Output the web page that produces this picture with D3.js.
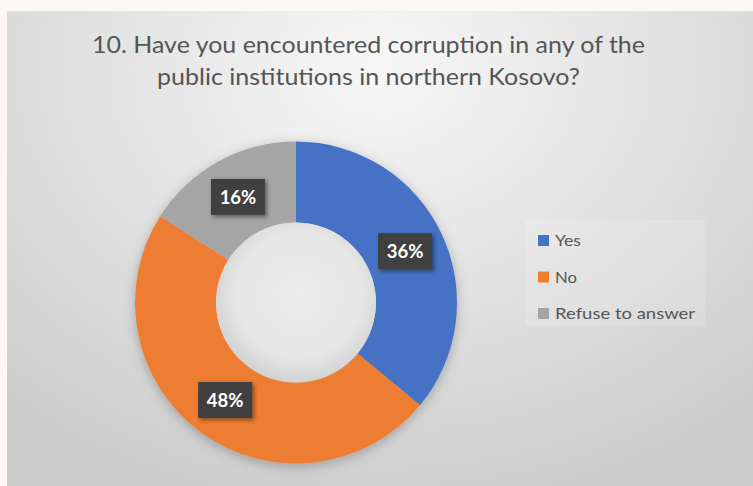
<!DOCTYPE html>
<html>
<head>
<meta charset="utf-8">
<script src="https://cdn.jsdelivr.net/npm/d3@7"></script>
<style>
  html, body { margin: 0; padding: 0; background: #fdf7f5; }
  svg { display: block; }
</style>
</head>
<body>
<svg id="chart" width="753" height="486"></svg>
<script>
// Survey answers, shares in percent
const categories = ["Yes", "No", "Refuse to answer"];
const shares = [36, 48, 16];
const colors = ["#4472C4", "#ED7D31", "#A5A5A5"];
const titleLines = [
  "10. Have you encountered corruption in any of the",
  "public institutions in northern Kosovo?"
];
// Rendered widths of the text runs (px)
const titleWidths = [553, 423];
const legendWidths = [26, 22, 140];

const W = 753, H = 486;
const svg = d3.select("#chart");
const defs = svg.append("defs");
const FONT = "Lato, 'Open Sans', sans-serif";

// Panel background gradient
const bg = defs.append("radialGradient").attr("id", "bgGrad")
  .attr("cx", "50%").attr("cy", "12%").attr("r", "75%")
  .attr("gradientTransform", "translate(0.5,0.12) scale(1,1.25) translate(-0.5,-0.12)");
bg.append("stop").attr("offset", "0%").attr("stop-color", "#f7f7f7");
bg.append("stop").attr("offset", "55%").attr("stop-color", "#e0e0e0");
bg.append("stop").attr("offset", "100%").attr("stop-color", "#cdcdcd");

// Hole shading
const hole = defs.append("radialGradient").attr("id", "holeGrad")
  .attr("cx", "52%").attr("cy", "45%").attr("r", "55%");
hole.append("stop").attr("offset", "0%").attr("stop-color", "#ececec");
hole.append("stop").attr("offset", "72%").attr("stop-color", "#e6e6e6");
hole.append("stop").attr("offset", "100%").attr("stop-color", "#d2d2d2");

// Soft shadows
const sh = defs.append("filter").attr("id", "ringShadow")
  .attr("x", "-20%").attr("y", "-20%").attr("width", "140%").attr("height", "140%");
sh.append("feDropShadow").attr("dx", 0).attr("dy", 3).attr("stdDeviation", 6)
  .attr("flood-color", "#000").attr("flood-opacity", 0.25);

const lsh = defs.append("filter").attr("id", "labelShadow")
  .attr("x", "-30%").attr("y", "-30%").attr("width", "160%").attr("height", "160%");
lsh.append("feDropShadow").attr("dx", 2).attr("dy", 2).attr("stdDeviation", 2)
  .attr("flood-color", "#000").attr("flood-opacity", 0.45);

svg.append("rect")
  .attr("x", 7).attr("y", 11).attr("width", W - 7).attr("height", H - 11)
  .attr("fill", "url(#bgGrad)");

// Title
const title = svg.append("text")
  .attr("font-family", FONT)
  .attr("font-size", 24)
  .attr("fill", "#555555");
titleLines.forEach((line, i) => {
  title.append("tspan")
    .attr("x", i === 0 ? 92 : 157).attr("y", 53 + i * 32)
    .attr("textLength", titleWidths[i])
    .attr("lengthAdjust", "spacingAndGlyphs")
    .text(line);
});

// Donut
const cx = 296, cy = 302.5, rOuter = 161, rInner = 80;
const pie = d3.pie().sort(null).value(d => d)(shares);
const arc = d3.arc().innerRadius(rInner).outerRadius(rOuter);

const g = svg.append("g").attr("transform", `translate(${cx},${cy})`);

g.append("g").attr("filter", "url(#ringShadow)")
  .selectAll("path").data(pie).join("path")
  .attr("d", arc)
  .attr("fill", (d, i) => colors[i]);

g.append("circle").attr("r", rInner).attr("fill", "url(#holeGrad)");

// Value labels on dark boxes
const labels = g.selectAll("g.lbl").data(pie).join("g")
  .attr("class", "lbl")
  .attr("transform", d => `translate(${arc.centroid(d)})`);
labels.append("rect")
  .attr("x", -27).attr("y", -18).attr("width", 54).attr("height", 36)
  .attr("fill", "#404040")
  .attr("filter", "url(#labelShadow)");
labels.append("text")
  .attr("text-anchor", "middle")
  .attr("dy", "0.36em")
  .attr("font-family", FONT)
  .attr("font-weight", "bold")
  .attr("font-size", 18.5)
  .attr("fill", "#ffffff")
  .text(d => `${d.data}%`);

// Legend
const legend = svg.append("g");
legend.append("rect")
  .attr("x", 525).attr("y", 220).attr("width", 180).attr("height", 106)
  .attr("fill", "#ffffff").attr("fill-opacity", 0.15);
const items = legend.selectAll("g.item").data(categories).join("g")
  .attr("class", "item")
  .attr("transform", (d, i) => `translate(538,${235 + i * 36.5})`);
items.append("rect")
  .attr("width", 11).attr("height", 11)
  .attr("fill", (d, i) => colors[i]);
items.append("text")
  .attr("x", 17).attr("y", 11)
  .attr("font-family", FONT)
  .attr("font-size", 16)
  .attr("fill", "#555555")
  .attr("textLength", (d, i) => legendWidths[i])
  .attr("lengthAdjust", "spacingAndGlyphs")
  .text(d => d);
</script>
</body>
</html>
